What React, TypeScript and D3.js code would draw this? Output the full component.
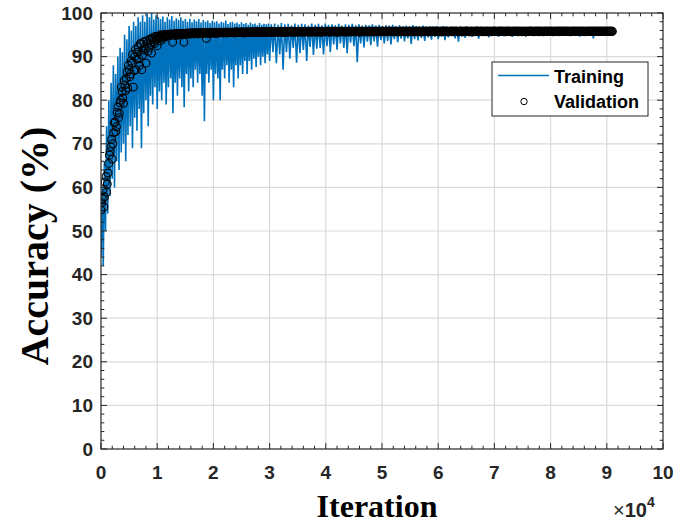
import * as d3 from "d3";

// training accuracy (%) sampled every 200 iterations from 0 to 29800
const TRAIN_A_STEP = 200;
const trainA = [
  44, 60, 42, 66, 50, 74, 54, 80, 58, 84,
  62, 88, 60, 86, 66, 90, 64, 92, 68, 91,
  70, 95, 66, 94, 72, 97, 74, 96, 69, 98,
  76, 97, 73, 99, 78, 98, 69, 99.5, 77, 98,
  80, 99.8, 74, 99, 81, 100, 79, 98.5, 83, 99.5,
  78, 99, 82, 98.6, 80, 99.2, 84, 98, 79, 99,
  83, 98.5, 85, 99.3, 77, 98.2, 84, 98.8, 81, 98.4,
  85, 99, 83, 98.2, 78.4, 98.6, 86, 98, 82, 98.7,
  85, 97.9, 83, 98.5, 87, 98.1, 84, 98.6, 86, 97.8,
  81, 98.4, 75.2, 98, 86, 98.3, 84, 97.7, 87, 98.2,
  80, 97.9, 86, 98.1, 85, 97.6, 80, 98, 87, 97.8,
  85, 98.3, 88, 97.5, 84, 97.9, 87, 98, 83, 97.6,
  88, 97.8, 85, 97.4, 88, 97.9, 86, 97.5, 89, 97.7,
  86, 97.3, 89, 97.8, 87, 97.4, 89.5, 97.6, 87.6, 97.2,
  90, 97.7, 88, 97.3, 90, 97.5, 88.5, 97.4, 90.5, 97.6,
];

// training accuracy (%) sampled every 300 iterations from 30000 to 90000
const TRAIN_B_START = 30000;
const TRAIN_B_STEP = 300;
const trainB = [
  89, 97.4, 91, 97.6, 88.5, 97.3, 90.5, 97.7, 87, 97.4,
  91, 97.5, 89.5, 97.2, 92, 97.6, 88.6, 97.3, 90.8, 97.5,
  91.5, 97.4, 89, 97.1, 92.2, 97.6, 90.4, 97.3, 91.8, 97.5,
  92, 97.2, 90.5, 97.6, 92.4, 97.3, 91, 97.4, 92.8, 97.2,
  91.6, 97.5, 93, 97.1, 92, 97.4, 90.8, 97.3, 93.2, 97.5,
  92.4, 97.2, 88.7, 97.4, 93, 97.1, 92.1, 97.3, 93.4, 97.2,
  92.6, 97.4, 93.5, 97.1, 92.3, 97.3, 93.8, 97, 93, 97.2,
  93.6, 97.1, 92.8, 97.3, 94, 97, 93.3, 97.2, 94.1, 96.9,
  93.5, 97.1, 94.2, 96.9, 92.9, 97.2, 94, 97, 93.7, 96.9,
  94.3, 97.1, 93.6, 96.8, 94.4, 97, 93.9, 96.9, 94.5, 97,
  94, 96.8, 94.6, 97, 93.8, 96.9, 94.4, 96.8, 94.7, 96.9,
  94.2, 96.8, 93.4, 96.9, 94.6, 96.7, 94.3, 96.9, 94.8, 96.8,
  94.5, 96.7, 94.9, 96.9, 94.1, 96.8, 94.7, 96.7, 94.9, 96.8,
  94.4, 96.7, 94.8, 96.8, 95, 96.7, 94.6, 96.8, 94.9, 96.6,
  94.7, 96.8, 95, 96.6, 94.5, 96.7, 94.9, 96.8, 95.1, 96.6,
  94.8, 96.7, 94.6, 96.6, 95, 96.8, 94.9, 96.6, 95.1, 96.7,
  94.7, 96.6, 95, 96.7, 94.9, 96.6, 95.2, 96.7, 94.8, 96.6,
  95, 96.7, 94.7, 96.6, 95.1, 96.6, 94.9, 96.7, 95.2, 96.6,
  94.9, 96.6, 95.1, 96.7, 94.6, 96.6, 95, 96.6, 95.2, 96.7,
  95, 96.6, 94.2, 96.6, 95.1, 96.7, 94.9, 96.6, 95.2, 96.6,
  95.3,
];

// validation accuracy (%) at iterations 0, 250, 500 ... 91000
const VAL_STEP = 250;
const valAcc = [
  54.8, 57.5, 55.5, 61.2, 58.9, 63.3, 67.4, 69.3, 66.5, 72.5,
  75, 73.9, 78.4, 77, 80, 82, 79.3, 83.5, 85, 82.8,
  87, 86, 88.5, 83, 90, 87, 91, 89.5, 93, 87,
  91.5, 92.3, 88.5, 93, 92, 93.8, 90.8, 94, 93, 94.3,
  92.5, 94.5, 93.6, 94.8, 94, 95, 94.6, 94.9, 95, 94.8,
  95.1, 93.3, 95, 95.2, 94.9, 95.2, 95.1, 95.3, 95, 93.3,
  95.2, 95.3, 95.1, 95.3, 95.2, 95.4, 95.2, 95.3, 95.4, 95.2,
  95.4, 95.3, 95.4, 95.3, 95.5, 94.2,
  95.4, 95.3, 95.5, 95.4, 95.4, 95.5, 95.3, 95.5, 95.4, 95.5, 95.5, 95.4, 95.5, 95.6, 95.4, 95.5, 95.5,
  95.5, 95.6, 95.4, 95.5, 95.6, 95.5, 95.5, 95.6, 95.5, 95.4, 95.6, 95.5, 95.6, 95.5, 95.6, 95.5, 95.6,
  95.6, 95.5, 95.6, 95.6, 95.5, 95.7, 95.6, 95.5, 95.6, 95.6, 95.7, 95.5, 95.6, 95.6, 95.7, 95.6, 95.6,
  95.6, 95.7, 95.6, 95.5, 95.7, 95.6, 95.6, 95.7, 95.6, 95.7, 95.6, 95.6, 95.7, 95.6, 95.7, 95.7, 95.6,
  95.7, 95.6, 95.7, 95.7, 95.6, 95.7, 95.7, 95.6, 95.7, 95.8, 95.6, 95.7, 95.7, 95.6, 95.7, 95.7, 95.8,
  95.7, 95.7, 95.6, 95.7, 95.8, 95.7, 95.7, 95.6, 95.7, 95.7, 95.8, 95.7, 95.7, 95.7, 95.6, 95.7, 95.8,
  95.7, 95.8, 95.7, 95.7, 95.7, 95.8, 95.6, 95.7, 95.8, 95.7, 95.7, 95.8, 95.7, 95.7, 95.8, 95.7, 95.7,
  95.8, 95.7, 95.7, 95.8, 95.7, 95.8, 95.7, 95.7, 95.8, 95.7, 95.8, 95.7, 95.8, 95.7, 95.7, 95.8, 95.7,
  95.7, 95.8, 95.7, 95.8, 95.8, 95.7, 95.7, 95.8, 95.7, 95.8, 95.8, 95.7, 95.8, 95.7, 95.8, 95.8, 95.7,
  95.8, 95.7, 95.8, 95.8, 95.7, 95.8, 95.7, 95.8, 95.8, 95.7, 95.8, 95.8, 95.7, 95.8, 95.8, 95.7, 95.8,
  95.8, 95.7, 95.8, 95.8, 95.8, 95.7, 95.8, 95.8, 95.7, 95.8, 95.8, 95.8, 95.7, 95.8, 95.8, 95.8, 95.7,
  95.8, 95.8, 95.7, 95.8, 95.8, 95.8, 95.7, 95.8, 95.8, 95.8, 95.7, 95.8, 95.8, 95.8, 95.8, 95.7, 95.8,
  95.8, 95.8, 95.7, 95.8, 95.8, 95.8, 95.8, 95.7, 95.8, 95.8, 95.8, 95.8, 95.7, 95.8, 95.8, 95.8, 95.8,
  95.7, 95.8, 95.8, 95.8, 95.8, 95.7, 95.8, 95.8, 95.8, 95.8, 95.8, 95.7, 95.8, 95.8, 95.8, 95.8, 95.8,
  95.8, 95.7, 95.8, 95.8, 95.8, 95.8, 95.8, 95.8, 95.7, 95.8, 95.8, 95.8, 95.8, 95.8, 95.8, 95.8, 95.8,
  95.8, 95.8, 95.8, 95.7, 95.8, 95.8, 95.8, 95.8, 95.8, 95.8, 95.8, 95.8, 95.8, 95.7, 95.8, 95.8, 95.8,
  95.8, 95.8, 95.8, 95.8, 95.8, 95.8, 95.8, 95.8, 95.8, 95.8, 95.8, 95.8, 95.8, 95.8, 95.8, 95.8, 95.8,
];

// validation accuracy (%) at the in-between iterations 125, 375, 625 ... 90875
const VAL_OFFSET = 125;
const valAccMid = [
  56.5, 59.5, 57.8, 62.5, 60.8, 65.5, 68.2, 71, 70, 74.8,
  72.8, 77.2, 76, 79.4, 83, 80.5, 84.5, 82.2, 86.5, 88,
  85.4, 89, 90.5, 86.8, 91.6, 89.4, 92.2, 88, 92.8, 90.3,
  93.4, 91.7, 93.6, 91.2, 94, 92.8, 94.3, 93.4, 94.6, 93.9,
  94.7, 94.2, 95, 94.5, 94.9, 95.1, 94.7, 95.1, 94.9, 95.2,
  95, 95.2, 94.9, 95.3, 95.1, 95, 95.3, 95.2, 95.1, 95.3,
  95.3, 95.4, 95.3, 95.4, 95.4, 95.3, 95.5, 95.4, 95.4, 95.5, 95.4, 95.5, 95.4, 95.5, 95.5, 95.4, 95.5, 95.5, 95.6,
  95.5, 95.5, 95.6, 95.5, 95.5, 95.6, 95.5, 95.6, 95.5, 95.6, 95.6, 95.5, 95.6, 95.6, 95.5, 95.6, 95.6, 95.7, 95.6,
  95.6, 95.6, 95.7, 95.6, 95.6, 95.7, 95.6, 95.6, 95.7, 95.6, 95.7, 95.6, 95.7, 95.7, 95.6, 95.7, 95.7, 95.6, 95.7,
  95.7, 95.6, 95.7, 95.7, 95.8, 95.7, 95.7, 95.6, 95.7, 95.7, 95.8, 95.7, 95.7, 95.7, 95.8, 95.7, 95.7, 95.8, 95.7,
  95.7, 95.8, 95.7, 95.7, 95.8, 95.7, 95.7, 95.8, 95.7, 95.8, 95.7, 95.7, 95.8, 95.7, 95.8, 95.7, 95.7, 95.8, 95.7,
  95.8, 95.7, 95.8, 95.7, 95.7, 95.8, 95.8, 95.7, 95.8, 95.7, 95.8, 95.8, 95.7, 95.8, 95.7, 95.8, 95.8, 95.7, 95.8,
  95.7, 95.8, 95.8, 95.7, 95.8, 95.8, 95.7, 95.8, 95.8, 95.7, 95.8, 95.8, 95.8, 95.7, 95.8, 95.8, 95.7, 95.8, 95.8,
  95.8, 95.7, 95.8, 95.8, 95.8, 95.7, 95.8, 95.8, 95.8, 95.7, 95.8, 95.8, 95.8, 95.8, 95.7, 95.8, 95.8, 95.8, 95.7,
  95.8, 95.8, 95.8, 95.8, 95.7, 95.8, 95.8, 95.8, 95.8, 95.7, 95.8, 95.8, 95.8, 95.8, 95.8, 95.7, 95.8, 95.8, 95.8,
  95.8, 95.8, 95.7, 95.8, 95.8, 95.8, 95.8, 95.8, 95.8, 95.7, 95.8, 95.8, 95.8, 95.8, 95.8, 95.8, 95.7, 95.8, 95.8,
  95.8, 95.8, 95.8, 95.8, 95.7, 95.8, 95.8, 95.8, 95.8, 95.8, 95.8, 95.8, 95.7, 95.8, 95.8, 95.8, 95.8, 95.8, 95.8,
  95.8, 95.8, 95.8, 95.8, 95.8, 95.8, 95.7, 95.8, 95.8, 95.8, 95.8, 95.8, 95.8, 95.8, 95.8, 95.8, 95.8, 95.8, 95.8,
  95.8, 95.8, 95.8, 95.8, 95.8, 95.8, 95.8, 95.8, 95.8, 95.8, 95.8, 95.7, 95.8, 95.8, 95.8, 95.8, 95.8, 95.8, 95.8,
  95.8, 95.8, 95.8, 95.8, 95.8, 95.8, 95.8, 95.8, 95.8, 95.8, 95.8, 95.8, 95.8, 95.8, 95.8, 95.8, 95.8, 95.8, 95.8,
  95.8, 95.8, 95.8, 95.8, 95.8, 95.8, 95.8, 95.8, 95.8, 95.8, 95.8, 95.8, 95.8, 95.8, 95.8, 95.8, 95.8, 95.8, 95.8,
  95.8, 95.8, 95.8, 95.8, 95.8, 95.8, 95.8, 95.8, 95.8, 95.8, 95.8, 95.8, 95.8, 95.8, 95.8, 95.8, 95.8, 95.8, 95.8,
];

const xTicks = [0, 10000, 20000, 30000, 40000, 50000, 60000, 70000, 80000, 90000, 100000];
const yTicks = [0, 10, 20, 30, 40, 50, 60, 70, 80, 90, 100];

const W = 699;
const H = 523;
const left = 101, right = 663, top = 13, bottom = 449;
const AXIS = "#262626";
const BLUE = "#0072BD";
const SANS = "'Liberation Sans', Arial, sans-serif";
const SERIF = "'Liberation Serif', 'Times New Roman', serif";

export default function App() {
  const x = d3.scaleLinear().domain([0, 100000]).range([left, right]);
  const y = d3.scaleLinear().domain([0, 100]).range([bottom, top]);

  const train: [number, number][] = [
    ...trainA.map((v, i) => [i * TRAIN_A_STEP, v] as [number, number]),
    ...trainB.map((v, i) => [TRAIN_B_START + i * TRAIN_B_STEP, v] as [number, number]),
  ];
  const val: [number, number][] = [
    ...valAcc.map((v, i) => [i * VAL_STEP, v] as [number, number]),
    ...valAccMid.map((v, i) => [VAL_OFFSET + i * VAL_STEP, v] as [number, number]),
  ].sort((a, b) => a[0] - b[0]);

  const line = d3.line<[number, number]>().x(d => x(d[0])).y(d => y(d[1]));

  const xMinor = d3.range(0, 100001, 2000).filter(v => v % 10000 !== 0);
  const yMinor = d3.range(0, 101, 2).filter(v => v % 10 !== 0);
  const major = 6, minor = 3.3;

  return (
    <svg width={W} height={H} style={{ position: "absolute", left: 0, top: 0, background: "#fff" }}>
      <defs>
        <clipPath id="plot">
          <rect x={left} y={top} width={right - left} height={bottom - top} />
        </clipPath>
      </defs>
      <rect x={0} y={0} width={W} height={H} fill="#fff" />

      {/* grid */}
      <g stroke="#dadada" strokeWidth={1.2}>
        {xTicks.slice(1, -1).map(t => (
          <line key={"gx" + t} x1={x(t)} x2={x(t)} y1={top} y2={bottom} />
        ))}
        {yTicks.slice(1, -1).map(t => (
          <line key={"gy" + t} x1={left} x2={right} y1={y(t)} y2={y(t)} />
        ))}
      </g>

      <g clipPath="url(#plot)">
        <path d={line(train) || ""} fill="none" stroke={BLUE} strokeWidth={1.6} strokeLinejoin="miter" strokeMiterlimit={2} />
        {val.map((d, i) => (
          <circle key={i} cx={x(d[0])} cy={y(d[1])} r={3.9} fill="none" stroke="#000" strokeWidth={1.1} />
        ))}
      </g>

      {/* box + ticks */}
      <rect x={left} y={top} width={right - left} height={bottom - top} fill="none" stroke={AXIS} strokeWidth={1.2} />
      <g stroke={AXIS} strokeWidth={1}>
        {xTicks.map(t => (
          <g key={"xt" + t}>
            <line x1={x(t)} x2={x(t)} y1={bottom} y2={bottom - major} />
            <line x1={x(t)} x2={x(t)} y1={top} y2={top + major} />
          </g>
        ))}
        {xMinor.map(t => (
          <g key={"xm" + t}>
            <line x1={x(t)} x2={x(t)} y1={bottom} y2={bottom - minor} />
            <line x1={x(t)} x2={x(t)} y1={top} y2={top + minor} />
          </g>
        ))}
        {yTicks.map(t => (
          <g key={"yt" + t}>
            <line x1={left} x2={left + major} y1={y(t)} y2={y(t)} />
            <line x1={right} x2={right - major} y1={y(t)} y2={y(t)} />
          </g>
        ))}
        {yMinor.map(t => (
          <g key={"ym" + t}>
            <line x1={left} x2={left + minor} y1={y(t)} y2={y(t)} />
            <line x1={right} x2={right - minor} y1={y(t)} y2={y(t)} />
          </g>
        ))}
      </g>

      {/* tick labels */}
      <g fontFamily={SANS} fontWeight="bold" fontSize={19} fill={AXIS}>
        {yTicks.map(t => (
          <text key={"yl" + t} x={93} y={y(t)} textAnchor="end" dominantBaseline="central">{t}</text>
        ))}
        {xTicks.map(t => (
          <text key={"xl" + t} x={x(t)} y={472} textAnchor="middle" dominantBaseline="central">{t / 10000}</text>
        ))}
      </g>

      {/* exponent */}
      <text x={613} y={517} fontFamily={SANS} fill={AXIS}>
        <tspan fontSize={20}>×</tspan>
        <tspan fontSize={20} fontWeight="bold">10</tspan>
        <tspan fontSize={14} fontWeight="bold" dy={-10}>4</tspan>
      </text>

      {/* axis titles */}
      <text x={377} y={517} textAnchor="middle" fontFamily={SERIF} fontWeight="bold" fontSize={32} fill="#000">Iteration</text>
      <text transform={`translate(48, 246) rotate(-90)`} textAnchor="middle" fontFamily={SERIF} fontWeight="bold" fontSize={40} fill="#000">Accuracy (%)</text>

      {/* legend */}
      <rect x={492} y={62} width={156} height={54} fill="#fff" stroke={AXIS} strokeWidth={1} />
      <line x1={498} x2={549} y1={75.5} y2={75.5} stroke={BLUE} strokeWidth={1.3} />
      <circle cx={524} cy={101.5} r={3.2} fill="none" stroke="#000" strokeWidth={1} />
      <g fontFamily={SANS} fontWeight="bold" fontSize={18} fill="#000">
        <text x={554} y={83}>Training</text>
        <text x={554} y={108}>Validation</text>
      </g>
    </svg>
  );
}
